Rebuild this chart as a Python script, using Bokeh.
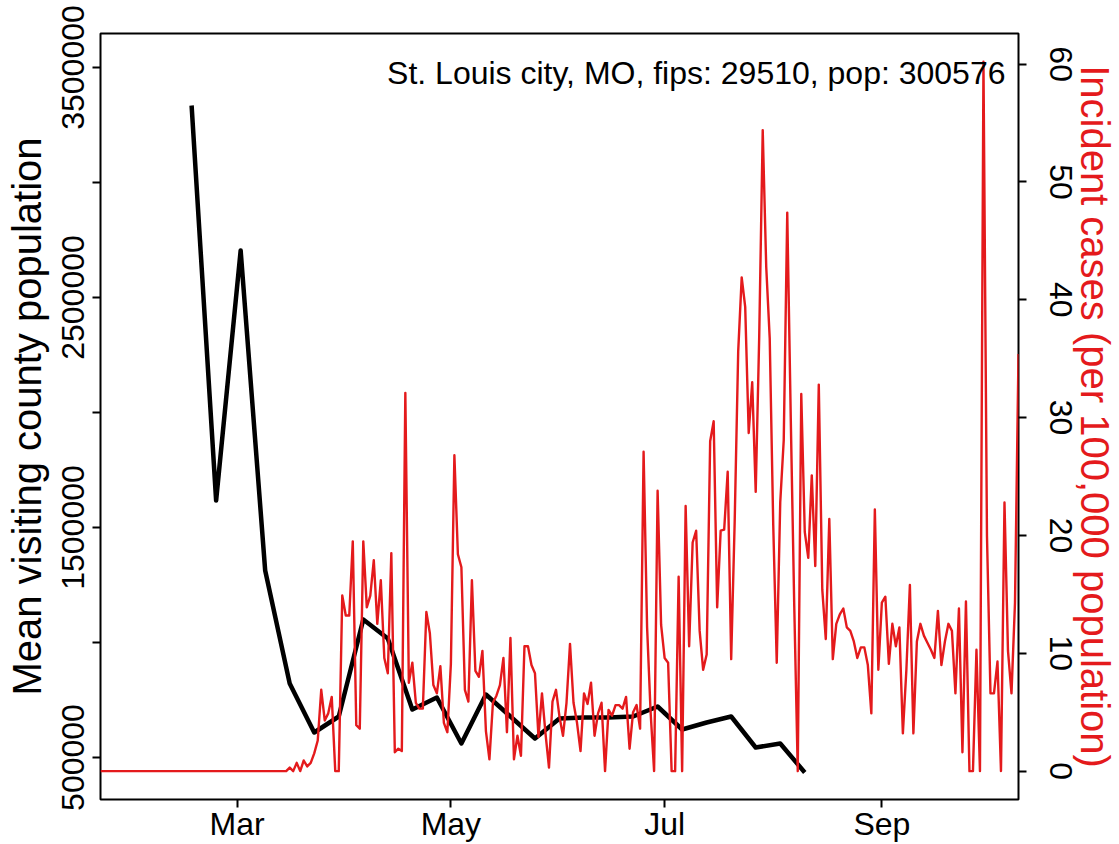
import pandas as pd
from bokeh.plotting import figure
from bokeh.models import Range1d, LinearAxis, FixedTicker, Label, DatetimeTickFormatter
from bokeh.embed import file_html
from bokeh.resources import INLINE

# ---------------- data ----------------
case_start = "2020-01-22"
cases = [0] * 53 + [
    0, 0.3, 0, 0.7, 0, 0.9, 0.4, 0.7, 1.5, 2.6,
    6.9, 4.3, 4.9, 6.3, 0, 0, 14.9, 13.2, 13.2, 19.5,
    3.9, 3.6, 19.5, 13.9, 14.9, 17.9, 12.5, 16.2, 9.6, 8.3,
    18.5, 1.6, 1.9, 1.7, 32.1, 7.5, 9.2, 5.8, 5.3, 5.3,
    13.5, 11.7, 7.3, 6.6, 8.9, 4.1, 3.3, 9.1, 26.8, 18.4,
    17.3, 6.9, 5.9, 16.2, 8.5, 8.0, 10.2, 3.4, 1.0, 5.8,
    6.4, 7.3, 9.6, 3.3, 11.3, 1.0, 3.0, 1.3, 10.6, 10.6,
    9.0, 8.3, 2.9, 6.6, 3.2, 0.3, 5.9, 6.9, 4.6, 3.0,
    5.8, 10.8, 5.8, 4.1, 1.7, 6.6, 5.7, 7.5, 3.0, 4.9,
    5.8, 0, 5.2, 4.7, 5.6, 5.6, 5.3, 6.3, 1.9, 5.0,
    5.6, 3.6, 27.1, 12.2, 5.0, 0, 23.8, 12.4, 9.6, 9.2,
    0, 0, 16.5, 0, 22.5, 10.6, 19.4, 20.4, 11.9, 8.6,
    9.9, 28.0, 29.7, 13.9, 20.4, 20.5, 25.4, 9.5, 21.2, 35.6,
    41.9, 39.4, 28.7, 33.0, 23.7, 36.9, 54.4, 42.8, 36.7, 20.9,
    9.2, 22.8, 28.1, 47.4, 30.0, 14.0, 0, 32.0, 20.3, 18.1,
    25.1, 17.4, 32.8, 15.4, 11.2, 21.4, 9.5, 12.5, 13.3, 13.8,
    12.2, 11.9, 11.0, 9.6, 10.5, 10.5, 9.0, 4.9, 22.2, 8.6,
    14.3, 14.8, 9.1, 12.5, 10.6, 12.2, 3.2, 8.6, 15.8, 3.2,
    11.0, 12.5, 11.5, 10.9, 10.3, 9.6, 13.6, 9.0, 11.0, 12.5,
    11.9, 6.6, 13.8, 1.6, 14.4, 0, 0, 10.3, 0, 60.2,
    20.0, 6.6, 6.6, 9.3, 0, 22.8, 10.2, 6.6, 14.3, 35.4,
]
case_dates = pd.date_range(case_start, periods=len(cases), freq="D")

visit_start = "2020-02-17"
visitors = [
    3334783, 1617391, 2704348, 1313043, 821739, 608696, 678261, 1100000,
    1017391, 708696, 760870, 560870, 773913, 678261, 582609, 669565,
    673913, 673913, 678261, 721739, 621739, 652174, 678261, 543478,
    560870, 434783,
]
visit_dates = pd.date_range(visit_start, periods=len(visitors), freq="7D")

month_ticks = ["2020-03-01", "2020-05-01", "2020-07-01", "2020-09-01"]
month_labels = ["Mar", "May", "Jul", "Sep"]
left_ticks = [500000, 1000000, 1500000, 2000000, 2500000, 3000000, 3500000]
left_labels = ["500000", "", "1500000", "", "2500000", "", "3500000"]
right_ticks = [0, 10, 20, 30, 40, 50, 60]

title_text = "St. Louis city, MO, fips: 29510, pop: 300576"
left_title = "Mean visiting county population"
right_title = "Incident cases (per 100,000 population)"

# ---------------- figure ----------------
RED = "#E41A1C"
FONT = "Liberation Sans"
TICK_FS = "32px"
LAB_FS = "40px"

p = figure(width=1119, height=844, x_axis_type="datetime",
           x_range=Range1d(pd.Timestamp("2020-01-22"), pd.Timestamp("2020-10-10")),
           y_range=Range1d(317391, 3647826),
           output_backend="svg", toolbar_location=None,
           min_border_left=100, min_border_right=101,
           min_border_top=33, min_border_bottom=45)
p.extra_y_ranges = {"cases": Range1d(-2.41, 62.6)}
p.xgrid.visible = False
p.ygrid.visible = False
p.outline_line_color = "black"
p.outline_line_width = 2
p.outline_line_alpha = 1.0
p.background_fill_color = "white"
p.border_fill_color = "white"

p.line(visit_dates, visitors, color="black", line_width=4.5, line_join="round")
p.line(case_dates, cases, y_range_name="cases", color=RED, line_width=2.4,
       line_join="round")


def style_axis(ax):
    ax.axis_line_color = None
    ax.major_tick_line_color = "black"
    ax.major_tick_line_width = 2
    ax.major_tick_out = 8
    ax.major_tick_in = 0
    ax.minor_tick_line_color = None
    ax.major_label_text_font = FONT
    ax.major_label_text_font_size = TICK_FS
    ax.major_label_text_color = "black"
    ax.axis_label_text_font = FONT
    ax.axis_label_text_font_size = LAB_FS
    ax.axis_label_text_font_style = "normal"
    ax.axis_label_text_color = "black"


# x axis
xax = p.xaxis[0]
style_axis(xax)
tick_ms = [pd.Timestamp(t).value / 1e6 for t in month_ticks]
xax.ticker = FixedTicker(ticks=tick_ms)
xax.formatter = DatetimeTickFormatter(days="%b", months="%b", years="%b")
xax.major_label_overrides = {t: l for t, l in zip(tick_ms, month_labels)}
xax.major_label_standoff = -2

# left axis
yax = p.yaxis[0]
style_axis(yax)
yax.ticker = FixedTicker(ticks=left_ticks)
yax.major_label_overrides = {t: l for t, l in zip(left_ticks, left_labels)}
yax.major_label_orientation = "vertical"
yax.major_label_standoff = 8
yax.axis_label = left_title
yax.axis_label_standoff = 11

# right axis
rax = LinearAxis(y_range_name="cases")
style_axis(rax)
rax.ticker = FixedTicker(ticks=right_ticks)
rax.major_label_orientation = "vertical"
rax.major_label_standoff = 23
rax.axis_label = right_title
rax.axis_label_text_color = RED
rax.axis_label_standoff = -2
p.add_layout(rax, "right")

p.add_layout(Label(x=905, y=727, x_units="screen", y_units="screen",
                   text=title_text, text_align="right", text_baseline="middle",
                   text_font=FONT, text_font_size=TICK_FS, text_color="black"))

open("out.html", "w").write(file_html(p, INLINE))
